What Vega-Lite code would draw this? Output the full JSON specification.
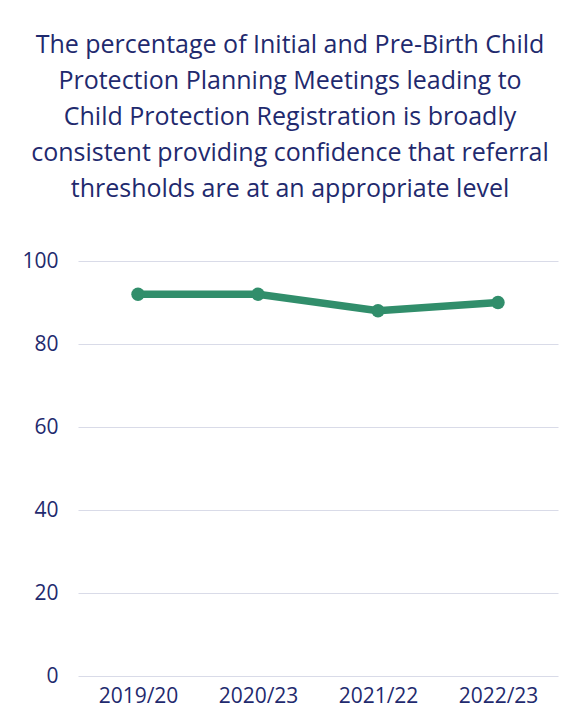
{
  "$schema": "https://vega.github.io/schema/vega-lite/v6.json",
  "width": 480,
  "height": 415,
  "autosize": {"type": "none"},
  "padding": {"left": 78, "top": 261, "right": 11, "bottom": 46},
  "background": "white",
  "title": {
    "text": [
      "The percentage of Initial and Pre-Birth Child",
      "Protection Planning Meetings leading to",
      "Child Protection Registration is broadly",
      "consistent providing confidence that referral",
      "thresholds are at an appropriate level"
    ],
    "anchor": "middle",
    "frame": "group",
    "dx": -28,
    "offset": 48,
    "font": "Open Sans",
    "fontSize": 25,
    "fontWeight": "normal",
    "lineHeight": 36,
    "color": "#1f2a6e"
  },
  "data": {
    "values": [
      {"year": "2019/20", "pct": 92},
      {"year": "2020/23", "pct": 92},
      {"year": "2021/22", "pct": 88},
      {"year": "2022/23", "pct": 90}
    ]
  },
  "mark": {
    "type": "line",
    "color": "#318e6b",
    "strokeWidth": 7.5,
    "point": {"filled": true, "size": 180, "color": "#318e6b", "opacity": 1}
  },
  "encoding": {
    "x": {
      "field": "year",
      "type": "ordinal",
      "sort": null,
      "scale": {"type": "point", "padding": 0.5},
      "axis": {
        "title": null,
        "labelAngle": 0,
        "domain": false,
        "ticks": false,
        "grid": false,
        "labelPadding": 9,
        "labelFont": "Open Sans",
        "labelFontSize": 21,
        "labelColor": "#1f2a6e"
      }
    },
    "y": {
      "field": "pct",
      "type": "quantitative",
      "scale": {"domain": [0, 100], "nice": false},
      "axis": {
        "title": null,
        "values": [0, 20, 40, 60, 80, 100],
        "domain": false,
        "ticks": false,
        "grid": true,
        "gridColor": "#d9dbe8",
        "gridWidth": 1.2,
        "labelPadding": 20,
        "labelFont": "Open Sans",
        "labelFontSize": 21,
        "labelColor": "#1f2a6e"
      }
    }
  },
  "config": {"view": {"stroke": null}}
}
